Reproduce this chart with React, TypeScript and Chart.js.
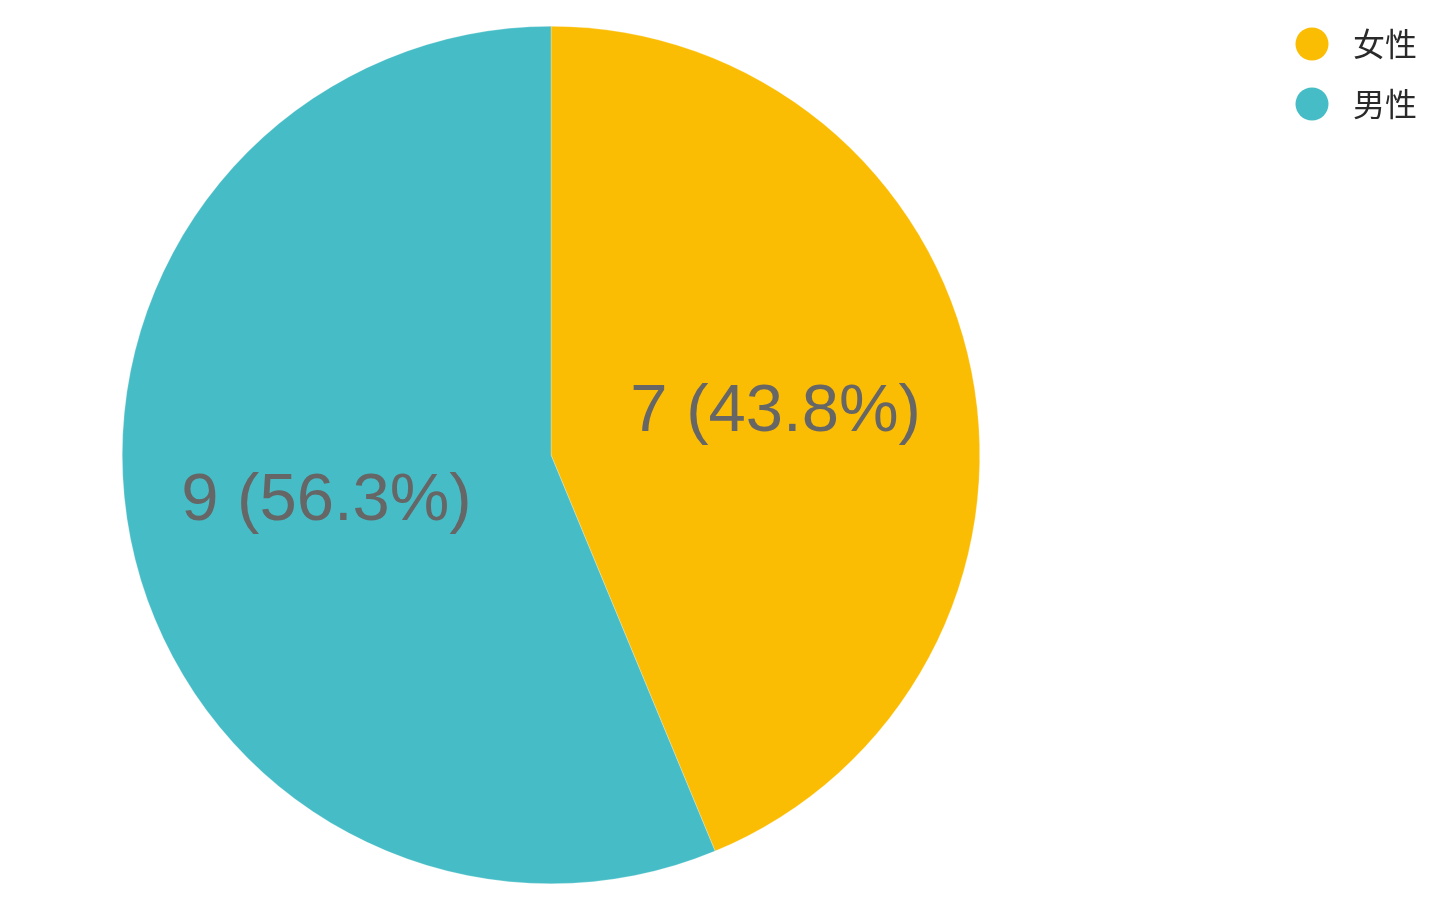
import React, { useEffect, useRef } from "react";
import { Chart, registerables } from "chart.js";

Chart.register(...registerables);

const categories = ["女性", "男性"];
const counts = [7, 9];
const colors = ["#FBBC04", "#46BDC6"];

const labelPlugin = {
  id: "sliceLabels",
  afterDatasetsDraw(chart: any) {
    const { ctx } = chart;
    const meta = chart.getDatasetMeta(0);
    const total = counts.reduce((a, b) => a + b, 0);
    ctx.save();
    ctx.font = "67px 'Liberation Sans', Arial, sans-serif";
    ctx.fillStyle = "#666666";
    ctx.textAlign = "center";
    ctx.textBaseline = "middle";
    meta.data.forEach((arc: any, i: number) => {
      const { x, y, startAngle, endAngle, outerRadius } = arc.getProps(
        ["x", "y", "startAngle", "endAngle", "outerRadius"],
        true
      );
      const mid = (startAngle + endAngle) / 2;
      const r = outerRadius * 0.534;
      const pct = ((counts[i] / total) * 100).toFixed(1);
      ctx.fillText(`${counts[i]} (${pct}%)`, x + Math.cos(mid) * r, y + Math.sin(mid) * r + 2);
    });
    ctx.restore();
  },
};

const legendPlugin = {
  id: "customLegend",
  afterDraw(chart: any) {
    const { ctx } = chart;
    ctx.save();
    ctx.font = "32px 'Noto Sans CJK SC', sans-serif";
    ctx.textAlign = "left";
    ctx.textBaseline = "middle";
    categories.forEach((c, i) => {
      const cy = 44 + i * 60;
      ctx.beginPath();
      ctx.fillStyle = colors[i];
      ctx.arc(1312, cy, 16.5, 0, Math.PI * 2);
      ctx.fill();
      ctx.fillStyle = "#2a2a2a";
      ctx.fillText(c, 1353, cy);
    });
    ctx.restore();
  },
};

export default function App() {
  const ref = useRef<HTMLCanvasElement | null>(null);
  useEffect(() => {
    if (!ref.current) return;
    const chart = new Chart(ref.current, {
      type: "pie",
      data: {
        labels: categories,
        datasets: [
          {
            data: counts,
            backgroundColor: colors,
            borderColor: "rgba(255,255,255,0.5)",
            borderWidth: 0.5,
          },
        ],
      },
      options: {
        animation: false,
        responsive: false,
        maintainAspectRatio: false,
        layout: { padding: { top: 26, bottom: 18, left: 122, right: 460 } },
        plugins: {
          legend: { display: false },
          tooltip: { enabled: false },
        },
      },
      plugins: [labelPlugin, legendPlugin],
    });
    return () => chart.destroy();
  }, []);
  return (
    <div style={{ position: "fixed", left: 0, top: 0, width: 1440, height: 902, background: "#fff" }}>
      <canvas ref={ref} width={1440} height={902} style={{ display: "block", width: 1440, height: 902 }} />
    </div>
  );
}
